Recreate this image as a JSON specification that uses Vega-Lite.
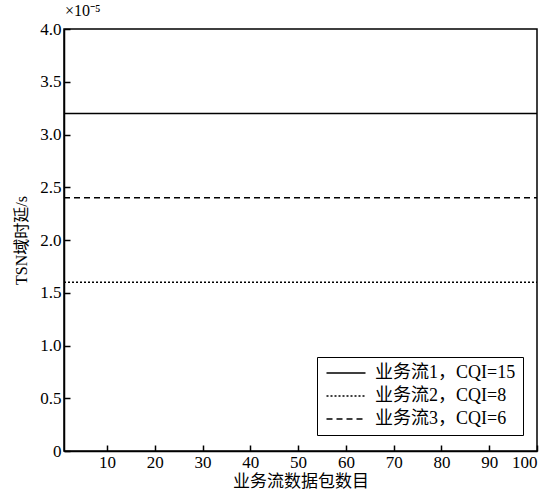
{
  "$schema": "https://vega.github.io/schema/vega-lite/v6.json",
  "autosize": "none",
  "width": 473,
  "height": 422,
  "padding": {"left": 64, "top": 29, "right": 15, "bottom": 46},
  "background": "white",
  "title": {"text": "×10⁻⁵", "anchor": "start", "frame": "group", "offset": 1, "dx": 1, "font": "Liberation Serif", "fontSize": 16, "fontWeight": "normal", "color": "black"},
  "data": {"values": [
    {"n": 1, "delay": 3.2e-5, "series": "业务流1，CQI=15"},
    {"n": 100, "delay": 3.2e-5, "series": "业务流1，CQI=15"},
    {"n": 1, "delay": 1.6e-5, "series": "业务流2，CQI=8"},
    {"n": 100, "delay": 1.6e-5, "series": "业务流2，CQI=8"},
    {"n": 1, "delay": 2.4e-5, "series": "业务流3，CQI=6"},
    {"n": 100, "delay": 2.4e-5, "series": "业务流3，CQI=6"}
  ]},
  "mark": {"type": "line", "color": "black", "strokeWidth": 1.5, "clip": true},
  "encoding": {
    "x": {"field": "n", "type": "quantitative", "scale": {"domain": [1, 100], "nice": false, "zero": false},
      "axis": {"title": "业务流数据包数目", "values": [10,20,30,40,50,60,70,80,90,100], "grid": false, "tickSize": -6, "labelPadding": 9, "titlePadding": 3, "titleFontSize": 17}},
    "y": {"field": "delay", "type": "quantitative", "scale": {"domain": [0, 4e-5], "nice": false},
      "axis": {"title": "TSN域时延/s", "values": [0, 0.5e-5, 1e-5, 1.5e-5, 2e-5, 2.5e-5, 3e-5, 3.5e-5, 4e-5], "grid": false, "tickSize": -6, "labelPadding": 9, "titlePadding": 10, "titleFontSize": 16,
        "labelExpr": "datum.value == 0 ? '0' : format(datum.value * 1e5, '.1f')"}},
    "strokeDash": {"field": "series", "type": "nominal",
      "scale": {"domain": ["业务流1，CQI=15", "业务流2，CQI=8", "业务流3，CQI=6"], "range": [[1, 0], [2, 2], [6, 4]]},
      "legend": {"title": null, "orient": "none", "legendX": 253, "legendY": 328, "symbolType": "M-3,0H3", "symbolSize": 169, "symbolStrokeColor": "black", "symbolStrokeWidth": 1.5,
        "symbolOffset": 13, "strokeColor": "black", "fillColor": "white", "padding": 7, "labelFontSize": 18, "labelFont": "Liberation Serif, Noto Sans CJK SC", "labelColor": "black", "rowPadding": 5, "labelOffset": 20}}
  },
  "config": {
    "view": {"stroke": "black", "strokeWidth": 1.5},
    "axis": {"domainColor": "black", "domainWidth": 1.5, "tickColor": "black", "tickWidth": 1.5, "labelFont": "Liberation Serif", "labelFontSize": 17, "labelColor": "black",
      "titleFont": "Liberation Serif, Noto Sans CJK SC", "titleFontWeight": "normal", "titleColor": "black"}
  }
}
